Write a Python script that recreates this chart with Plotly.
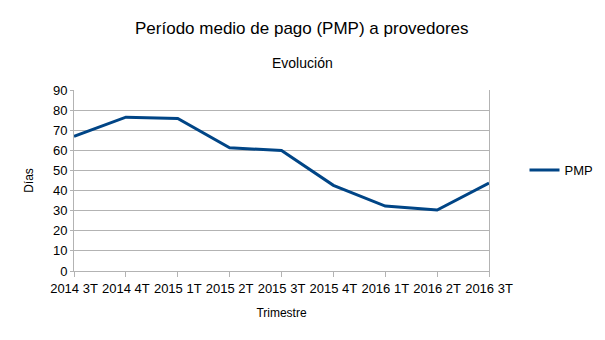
import plotly.graph_objects as go

quarters = ["2014 3T", "2014 4T", "2015 1T", "2015 2T", "2015 3T",
            "2015 4T", "2016 1T", "2016 2T", "2016 3T"]
pmp = [67.0, 76.5, 75.8, 61.3, 59.9, 42.6, 32.3, 30.3, 43.7]
y_ticks = [0, 10, 20, 30, 40, 50, 60, 70, 80, 90]

FONT = "Liberation Sans, Arial, sans-serif"
GRID = "#b3b3b3"

fig = go.Figure()
fig.add_trace(go.Scatter(
    x=list(range(len(quarters))), y=pmp, mode="lines", name="PMP",
    line=dict(color="#004586", width=3),
))

fig.update_layout(
    width=605, height=340,
    margin=dict(l=74, r=116, t=90, b=69, autoexpand=False),
    paper_bgcolor="white", plot_bgcolor="white",
    font=dict(family=FONT, size=13, color="black"),
    showlegend=True,
    legend=dict(xref="container", yref="container",
                x=524.5 / 605, y=1 - 170 / 340, xanchor="left", yanchor="middle",
                font=dict(size=13, family=FONT), bgcolor="rgba(0,0,0,0)"),
    xaxis=dict(
        range=[0, len(quarters) - 1], automargin=False,
        tickmode="array", tickvals=list(range(len(quarters))), ticktext=quarters,
        showgrid=False, zeroline=False,
        showline=True, linecolor=GRID, linewidth=1,
        ticks="outside", ticklen=5, tickcolor=GRID,
        tickfont=dict(size=13, family=FONT),
        title=dict(text="Trimestre", font=dict(size=12, family=FONT), standoff=14),
    ),
    yaxis=dict(
        range=[0, 90], tickmode="array", tickvals=y_ticks, automargin=False,
        showgrid=True, gridcolor=GRID, gridwidth=1, zeroline=False,
        showline=True, linecolor=GRID, linewidth=1, mirror=True,
        ticks="outside", ticklen=3, tickcolor=GRID,
        tickfont=dict(size=13, family=FONT),
        title=dict(text="Días", font=dict(size=12, family=FONT), standoff=16),
    ),
)

fig.add_annotation(text="Período medio de pago (PMP) a provedores",
                   xref="paper", yref="paper", x=(302 - 74) / 415, y=1 + (90 - 28) / 181,
                   showarrow=False, font=dict(size=17, family=FONT),
                   xanchor="center", yanchor="middle")
fig.add_annotation(text="Evolución",
                   xref="paper", yref="paper", x=(302 - 74) / 415, y=1 + (90 - 63) / 181,
                   showarrow=False, font=dict(size=14, family=FONT),
                   xanchor="center", yanchor="middle")

fig.write_html("out.html")
